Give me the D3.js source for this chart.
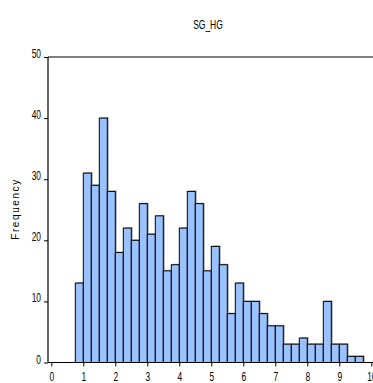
<!DOCTYPE html>
<html><head><meta charset="utf-8">
<script src="https://cdn.jsdelivr.net/npm/d3@7"></script>
<style>
html,body{margin:0;padding:0;background:#fff;}
svg{display:block;}
text{font-family:"Liberation Sans",Arial,sans-serif;fill:#000;}
</style></head>
<body>
<svg id="c" width="373" height="383"></svg>
<script>
const title = "SG_HG";
const yLabel = "Frequency";
const binStarts = [0.75,1.0,1.25,1.5,1.75,2.0,2.25,2.5,2.75,3.0,3.25,3.5,3.75,4.0,4.25,4.5,4.75,5.0,5.25,5.5,5.75,6.0,6.25,6.5,6.75,7.0,7.25,7.5,7.75,8.0,8.25,8.5,8.75,9.0,9.25,9.5];
const counts = [13,31,29,40,28,18,22,20,26,21,24,15,16,22,28,26,15,19,16,8,13,10,10,8,6,6,3,3,4,3,3,10,3,3,1,1];
const binWidth = 0.25;
const xTicks = [0,1,2,3,4,5,6,7,8,9,10];
const yTicks = [0,10,20,30,40,50];

const svg = d3.select("#c");
const padL = 48, padT = 57, baseY = 362.5;
const x = d3.scaleLinear().domain([0,10]).range([51.3,371.3]);
const y = d3.scaleLinear().domain([0,50]).range([baseY, padT]);

const data = binStarts.map((s,i)=>({s, c: counts[i]}));

// shadows
svg.append("g").selectAll("rect").data(data).join("rect")
  .attr("x", d=>x(d.s)+1.5).attr("y", d=>y(d.c)-1)
  .attr("width", d=>x(d.s+binWidth)-x(d.s)).attr("height", d=>baseY-y(d.c)+1)
  .attr("fill","#b0b0b0");
// bars
svg.append("g").selectAll("rect").data(data).join("rect")
  .attr("x", d=>x(d.s)).attr("y", d=>y(d.c))
  .attr("width", d=>x(d.s+binWidth)-x(d.s)).attr("height", d=>baseY-y(d.c))
  .attr("fill","#99c2ff").attr("stroke","#000").attr("stroke-width",1);

// frame
svg.append("line").attr("x1",padL).attr("x2",373).attr("y1",padT).attr("y2",padT).attr("stroke","#000").attr("stroke-width",1.2);
svg.append("line").attr("x1",padL).attr("x2",padL).attr("y1",padT).attr("y2",baseY).attr("stroke","#000").attr("stroke-width",1.2);
svg.append("line").attr("x1",padL).attr("x2",373).attr("y1",baseY).attr("y2",baseY).attr("stroke","#000").attr("stroke-width",1.2);

// x axis
const xAxis = d3.axisBottom(x).tickValues(xTicks).tickSize(4).tickPadding(3).tickFormat(d3.format("d"));
const gx = svg.append("g").attr("transform",`translate(0,${baseY})`).call(xAxis);
gx.select(".domain").remove();
gx.selectAll("text").style("font-size","12px").attr("y",0).attr("dy",0)
  .attr("transform","translate(0,18) scale(0.7,1)");

// y axis
const yAxis = d3.axisLeft(y).tickValues(yTicks).tickSize(4).tickPadding(2).tickFormat(d3.format("d"));
const gy = svg.append("g").attr("transform",`translate(${padL},0)`).call(yAxis);
gy.select(".domain").remove();
gy.selectAll("text").style("font-size","12px").attr("x",0).attr("dy",0)
  .attr("transform","translate(-7,0.5) scale(0.7,1)");

svg.append("text").attr("transform","translate(208,29) scale(0.68,1)").attr("text-anchor","middle").style("font-size","12.5px").text(title);
svg.append("text").attr("transform","translate(19,209) rotate(-90)").attr("text-anchor","middle")
  .style("font-size","10px").style("letter-spacing","1.6px").text(yLabel);
</script>
</body></html>
